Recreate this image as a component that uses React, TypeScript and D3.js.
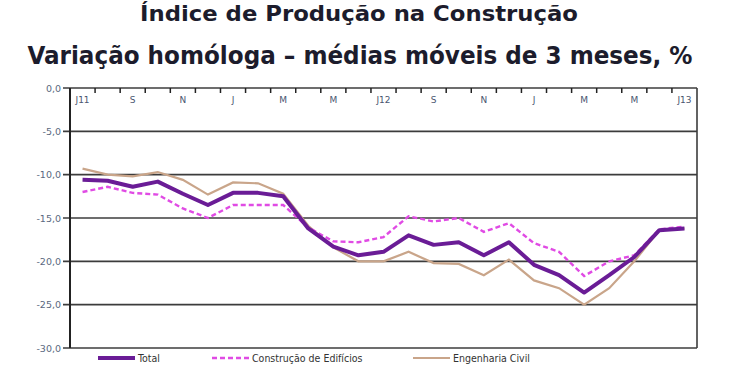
import { useEffect, useRef } from 'react';
import * as d3 from 'd3';

// Jul 2011 .. Jul 2013, 3-month moving averages (year-on-year %)
const months = [
  '2011-07', '2011-08', '2011-09', '2011-10', '2011-11', '2011-12',
  '2012-01', '2012-02', '2012-03', '2012-04', '2012-05', '2012-06',
  '2012-07', '2012-08', '2012-09', '2012-10', '2012-11', '2012-12',
  '2013-01', '2013-02', '2013-03', '2013-04', '2013-05', '2013-06', '2013-07',
];
const monthLabels = ['J11', '', 'S', '', 'N', '', 'J', '', 'M', '', 'M', '', 'J12', '', 'S', '', 'N', '', 'J', '', 'M', '', 'M', '', 'J13'];

const total = [-10.6, -10.7, -11.4, -10.8, -12.2, -13.5, -12.1, -12.1, -12.5, -16.2, -18.3, -19.3, -18.9, -17.0, -18.1, -17.8, -19.3, -17.8, -20.4, -21.6, -23.6, -21.6, -19.5, -16.4, -16.2];
const edificios = [-12.0, -11.4, -12.1, -12.3, -13.9, -15.0, -13.5, -13.5, -13.5, -16.1, -17.7, -17.8, -17.2, -14.8, -15.4, -15.0, -16.6, -15.6, -17.9, -18.9, -21.7, -20.0, -19.3, -16.3, -16.0];
const civil = [-9.3, -10.0, -10.2, -9.7, -10.6, -12.3, -10.9, -11.0, -12.2, -15.9, -18.4, -20.0, -20.0, -18.9, -20.2, -20.3, -21.6, -19.8, -22.2, -23.1, -25.0, -23.1, -20.0, -16.4, -16.2];

const yTicks = [0, -5, -10, -15, -20, -25, -30];

const seriesNames = ['Total', 'Construção de Edifícios', 'Engenharia Civil'];

export default function App() {
  const svgRef = useRef<SVGSVGElement>(null);
  const width = 740;
  const height = 389;

  useEffect(() => {
    if (!svgRef.current) return;
    const svg = d3.select(svgRef.current);
    svg.selectAll('*').remove();

    const left = 70, right = 697, top = 88, bottom = 348;

    const x = d3.scaleBand().domain(months).range([left, right]);
    const y = d3.scaleLinear().domain([-30, 0]).range([bottom, top]);
    const cx = (m: string) => x(m)! + x.bandwidth() / 2;

    svg.append('rect').attr('width', width).attr('height', height).attr('fill', '#fff');

    // titles
    svg.append('text')
      .attr('x', 359).attr('y', 21)
      .attr('text-anchor', 'middle')
      .attr('font-family', 'DejaVu Sans Condensed, DejaVu Sans')
      .attr('font-weight', 'bold')
      .attr('font-size', 22)
      .attr('fill', '#1c1c2c')
      .attr('textLength', 438).attr('lengthAdjust', 'spacingAndGlyphs')
      .text('Índice de Produção na Construção');

    svg.append('text')
      .attr('x', 360).attr('y', 64)
      .attr('text-anchor', 'middle')
      .attr('font-family', 'DejaVu Sans Condensed, DejaVu Sans')
      .attr('font-weight', 'bold')
      .attr('font-size', 24)
      .attr('fill', '#1c1c2c')
      .attr('textLength', 665).attr('lengthAdjust', 'spacingAndGlyphs')
      .text('Variação homóloga – médias móveis de 3 meses, %');

    // gridlines + y ticks
    const grid = svg.append('g');
    grid.selectAll('line')
      .data(yTicks)
      .enter().append('line')
      .attr('x1', left - 7).attr('x2', right)
      .attr('y1', d => y(d)).attr('y2', d => y(d))
      .attr('stroke', '#3c3c3c')
      .attr('stroke-width', 1.6);

    grid.selectAll('text')
      .data(yTicks)
      .enter().append('text')
      .attr('x', left - 9)
      .attr('y', d => y(d) + 3.5)
      .attr('text-anchor', 'end')
      .attr('font-family', 'DejaVu Sans')
      .attr('font-size', 9.5)
      .attr('fill', '#5a6880')
      .text(d => d3.format('.1f')(d).replace('.', ',').replace('−', '-'));

    // axis frame
    svg.append('line')
      .attr('x1', left).attr('x2', left).attr('y1', top).attr('y2', bottom)
      .attr('stroke', '#222').attr('stroke-width', 2);
    svg.append('line')
      .attr('x1', right).attr('x2', right).attr('y1', top).attr('y2', bottom)
      .attr('stroke', '#3c3c3c').attr('stroke-width', 1.6);

    // top category axis: ticks between months, labels at centres
    svg.append('g').selectAll('line')
      .data(months.slice(1))
      .enter().append('line')
      .attr('x1', d => x(d)!).attr('x2', d => x(d)!)
      .attr('y1', top).attr('y2', top + 5)
      .attr('stroke', '#222').attr('stroke-width', 1.5);

    svg.append('g').selectAll('text')
      .data(months)
      .enter().append('text')
      .attr('x', d => cx(d))
      .attr('y', top + 15)
      .attr('text-anchor', 'middle')
      .attr('font-family', 'DejaVu Sans')
      .attr('font-size', 9)
      .attr('fill', '#4a5670')
      .text((d, i) => monthLabels[i]);

    const line = d3.line<number>()
      .x((d, i) => cx(months[i]))
      .y(d => y(d));

    svg.append('path')
      .datum(civil)
      .attr('d', line)
      .attr('fill', 'none')
      .attr('stroke', '#c9a58a')
      .attr('stroke-width', 2.2);

    svg.append('path')
      .datum(edificios)
      .attr('d', line)
      .attr('fill', 'none')
      .attr('stroke', '#e04be4')
      .attr('stroke-width', 2.4)
      .attr('stroke-dasharray', '5,3');

    svg.append('path')
      .datum(total)
      .attr('d', line)
      .attr('fill', 'none')
      .attr('stroke', '#6a1c96')
      .attr('stroke-width', 4)
      .attr('stroke-linejoin', 'round');

    // legend
    const legend = [
      { name: seriesNames[0], x: 98, color: '#6a1c96', w: 4, dash: null },
      { name: seriesNames[1], x: 212, color: '#e04be4', w: 2.4, dash: '5,3' },
      { name: seriesNames[2], x: 413, color: '#c9a58a', w: 2.2, dash: null },
    ];
    const lg = svg.append('g');
    legend.forEach(l => {
      lg.append('line')
        .attr('x1', l.x).attr('x2', l.x + 37)
        .attr('y1', 358).attr('y2', 358)
        .attr('stroke', l.color)
        .attr('stroke-width', l.w)
        .attr('stroke-dasharray', l.dash);
      lg.append('text')
        .attr('x', l.x + 40)
        .attr('y', 362)
        .attr('font-family', 'DejaVu Sans Condensed, DejaVu Sans')
        .attr('font-size', 10.5)
        .attr('fill', '#333')
        .text(l.name);
    });
  }, []);

  return (
    <svg
      ref={svgRef}
      width={width}
      height={height}
      style={{ position: 'absolute', left: 0, top: 0 }}
    />
  );
}
